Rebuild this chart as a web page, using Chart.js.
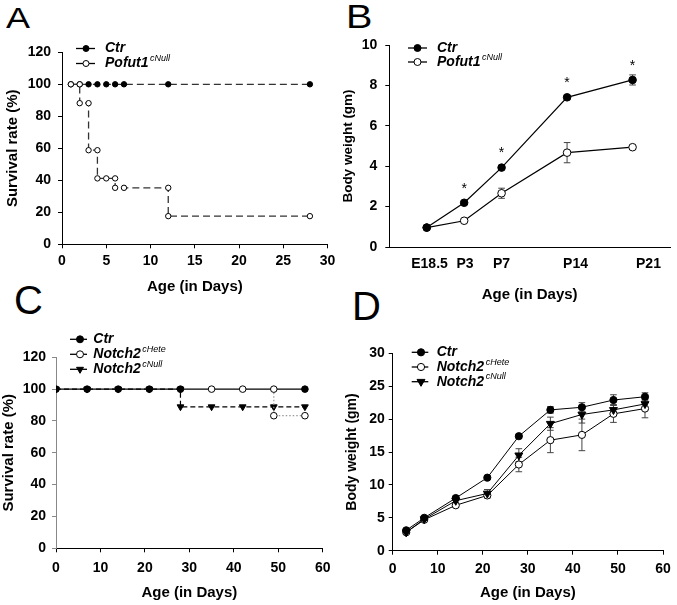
<!DOCTYPE html>
<html>
<head>
<meta charset="utf-8">
<title>Survival and body weight</title>
<script src="https://cdn.jsdelivr.net/npm/chart.js@4.4.1/dist/chart.umd.min.js"></script>
<style>
  html, body { margin: 0; padding: 0; background: #fff; }
  body { position: relative; width: 677px; height: 605px; overflow: hidden; font-family: "Liberation Sans", Arial, sans-serif; }
  canvas { position: absolute; }
  .letter { position: absolute; font-size: 30px; line-height: 30px; color: #000; transform-origin: left top; }
  .big { font-size: 40px; line-height: 40px; }
</style>
</head>
<body>
<div class="letter" style="left:6px;top:3px;transform:scaleX(1.2)">A</div>
<div class="letter" style="left:346px;top:0px;font-size:33px;line-height:33px;transform:scaleX(1.2)">B</div>
<div class="letter big" style="left:14px;top:280px">C</div>
<div class="letter big" style="left:352px;top:286px">D</div>

<canvas id="chartA" width="340" height="300" style="left:0;top:0"></canvas>
<canvas id="chartB" width="337" height="310" style="left:340px;top:0"></canvas>
<canvas id="chartC" width="340" height="305" style="left:0;top:300px"></canvas>
<canvas id="chartD" width="337" height="305" style="left:340px;top:300px"></canvas>

<script>
// A: survival, Ctr vs Pofut1 cNull (step points listed at each drop)
const aCtrDays = [1, 2, 3, 4, 5, 6, 7, 12, 28];
const aCtrSurv = [100, 100, 100, 100, 100, 100, 100, 100, 100];
const aPofutDays = [1, 2, 2, 3, 3, 4, 4, 5, 6, 6, 7, 12, 12, 28];
const aPofutSurv = [100, 100, 88.2, 88.2, 58.8, 58.8, 41.2, 41.2, 41.2, 35.3, 35.3, 35.3, 17.6, 17.6];

// B: body weight, Ctr vs Pofut1 cNull (E18.5 sits one day before P0)
const bDays = [-1, 3, 7, 14, 21];
const bTickDays = [-0.7, 3.1, 7, 14.9, 22.7];
const bTickLabels = ['E18.5', 'P3', 'P7', 'P14', 'P21'];
const bCtr = [0.96, 2.19, 3.93, 7.41, 8.27];
const bCtrSem = [0.04, 0.08, 0.1, 0.1, 0.25];
const bPofut = [0.96, 1.30, 2.66, 4.67, 4.94];
const bPofutSem = [0.04, 0.06, 0.25, 0.5, 0.08];
const bSignificant = [false, true, true, true, true];

// C: survival, Ctr vs Notch2 cHete / cNull
const cCtrDays = [0, 7, 14, 21, 28, 56];
const cCtrSurv = [100, 100, 100, 100, 100, 100];
const cHeteDays = [0, 7, 14, 21, 28, 35, 42, 49, 49, 56];
const cHeteSurv = [100, 100, 100, 100, 100, 100, 100, 100, 83.3, 83.3];
const cNullDays = [0, 7, 14, 21, 28, 28, 35, 42, 49, 56];
const cNullSurv = [100, 100, 100, 100, 100, 88.9, 88.9, 88.9, 88.9, 88.9];

// D: body weight, Ctr vs Notch2 cHete / cNull
const dDays = [3, 7, 14, 21, 28, 35, 42, 49, 56];
const dCtr = [3.1, 5.0, 8.0, 11.1, 17.4, 21.4, 21.8, 22.9, 23.4];
const dCtrSem = [0.2, 0.2, 0.3, 0.2, 0.3, 0.5, 0.7, 0.8, 0.6];
const dHete = [2.8, 4.7, 6.9, 8.4, 13.1, 16.8, 17.6, 20.8, 21.6];
const dHeteSem = [0.2, 0.2, 0.3, 0.4, 1.1, 1.9, 2.4, 1.3, 1.4];
const dNull = [2.8, 4.8, 7.6, 8.7, 14.5, 19.3, 20.7, 21.4, 22.3];
const dNullSem = [0.2, 0.3, 0.4, 0.6, 1.0, 1.0, 1.3, 0.8, 0.8];

const FONT = "'Liberation Sans', Arial, sans-serif";
Chart.defaults.font.family = FONT;
Chart.defaults.color = '#000';

const pts = (xs, ys) => xs.map((x, i) => ({ x: x, y: ys[i] }));

function series(xs, ys, o) {
  return Object.assign({
    data: pts(xs, ys),
    borderColor: '#000', borderWidth: 1.2, tension: 0,
    pointRadius: 3.5, pointHoverRadius: 3.5, pointBorderWidth: 1,
    pointBorderColor: '#000', pointBackgroundColor: '#000'
  }, o);
}

function xAxis(min, max, step, o) {
  return {
    type: 'linear', min: min, max: max,
    ticks: { stepSize: step, color: '#000', font: { size: 14, weight: 'bold' }, padding: o.tickPad, maxRotation: 0, autoSkip: false },
    grid: { drawOnChartArea: false, drawTicks: o.drawTicks !== false, tickLength: 4, color: '#000' },
    border: { color: '#000', width: 1 },
    title: { display: true, text: 'Age (in Days)', color: '#000', font: { size: 15, weight: 'bold' }, padding: { top: 0, bottom: o.titlePad } },
    afterFit: s => { s.height = o.height; }
  };
}

function yAxis(min, max, step, o) {
  return {
    min: min, max: max,
    ticks: { stepSize: step, color: '#000', font: { size: 14, weight: 'bold' }, padding: o.tickPad },
    grid: { drawOnChartArea: false, tickLength: 4, color: o.axisColor || '#000' },
    border: { color: o.axisColor || '#000', width: 1 },
    title: { display: true, text: o.title, color: '#000', font: { size: o.titleSize, weight: 'bold' }, padding: { top: o.titlePad, bottom: 0 } },
    afterFit: s => { s.width = o.width; }
  };
}

// error bars drawn under the markers
const errorBars = {
  id: 'errorBars',
  beforeDatasetsDraw(chart) {
    const ctx = chart.ctx, x = chart.scales.x, y = chart.scales.y;
    chart.data.datasets.forEach(ds => {
      if (!ds.sem) return;
      ctx.save();
      ctx.strokeStyle = '#444';
      ctx.lineWidth = 1;
      ds.data.forEach((p, i) => {
        const e = ds.sem[i];
        if (!e) return;
        const px = x.getPixelForValue(p.x);
        const t = y.getPixelForValue(p.y + e), b = y.getPixelForValue(p.y - e);
        ctx.beginPath();
        ctx.moveTo(px, t); ctx.lineTo(px, b);
        ctx.moveTo(px - 3.3, t); ctx.lineTo(px + 3.3, t);
        ctx.moveTo(px - 3.3, b); ctx.lineTo(px + 3.3, b);
        ctx.stroke();
      });
      ctx.restore();
    });
  }
};

// asterisks over significant points
const stars = {
  id: 'stars',
  afterDatasetsDraw(chart, args, opts) {
    if (!opts.flags) return;
    const meta = chart.getDatasetMeta(opts.dataset), ctx = chart.ctx;
    ctx.save();
    ctx.font = '14px ' + FONT;
    ctx.textAlign = 'center';
    ctx.textBaseline = 'middle';
    ctx.fillStyle = '#000';
    opts.flags.forEach((f, i) => {
      if (f) ctx.fillText('*', meta.data[i].x, meta.data[i].y - opts.offset);
    });
    ctx.restore();
  }
};

// legend with italic gene names and superscript alleles
const panelLegend = {
  id: 'panelLegend',
  afterDraw(chart, args, o) {
    if (!o.items) return;
    const ctx = chart.ctx;
    ctx.save();
    o.items.forEach((it, i) => {
      const y = o.y + i * o.dy;
      ctx.setLineDash([]);
      ctx.strokeStyle = '#000';
      ctx.lineWidth = 1.3;
      ctx.beginPath();
      ctx.moveTo(o.x1, y); ctx.lineTo(o.x2, y);
      ctx.stroke();
      ctx.lineWidth = 1;
      ctx.fillStyle = it.fill;
      Chart.helpers.drawPoint(ctx, { pointStyle: it.style || 'circle', rotation: it.rotation || 0, radius: it.radius || o.radius, borderWidth: 1 }, o.mx, y);
      ctx.fillStyle = '#000';
      ctx.textAlign = 'left';
      ctx.textBaseline = 'middle';
      ctx.font = 'italic bold 14px ' + FONT;
      ctx.fillText(it.label, o.tx, y);
      if (it.sup) {
        const w = ctx.measureText(it.label).width;
        ctx.font = 'italic 9px ' + FONT;
        ctx.fillText(it.sup, o.tx + w + 1.5, y - 5);
      }
    });
    ctx.restore();
  }
};

function panel(id, pad, datasets, scales, pluginOpts) {
  return new Chart(document.getElementById(id), {
    type: 'line',
    data: { datasets: datasets },
    options: {
      responsive: false, animation: false, events: [],
      layout: { padding: { left: 0, top: pad.top, right: pad.right, bottom: 0 } },
      scales: scales,
      plugins: Object.assign({ legend: { display: false }, tooltip: { enabled: false } }, pluginOpts)
    },
    plugins: [errorBars, stars, panelLegend]
  });
}

// ---- A ----
panel('chartA', { top: 52.3, right: 11 }, [
  series(aPofutDays, aPofutSurv, { order: 0, borderColor: '#333', borderWidth: 1.3, borderDash: [7, 4], pointRadius: 2.7, pointHoverRadius: 2.7, pointBackgroundColor: '#fff' }),
  series(aCtrDays, aCtrSurv, { order: 1, borderColor: '#333', borderWidth: 1.3, borderDash: [7, 4], pointRadius: 2.7, pointHoverRadius: 2.7 })
], {
  x: xAxis(0, 30, 5, { tickPad: 4.6, titlePad: 4, height: 55.7 }),
  y: yAxis(0, 120, 20, { title: 'Survival rate (%)', titleSize: 15, titlePad: 3.7, width: 62, tickPad: 7 })
}, {
  panelLegend: { x1: 76, x2: 95, mx: 86, tx: 105, y: 48.5, dy: 15, radius: 3, items: [
    { label: 'Ctr', fill: '#000' },
    { label: 'Pofut1', sup: 'cNull', fill: '#fff' }
  ] }
});

// ---- B ----
const bx = xAxis(-5, 25, 1, { tickPad: 8.6, titlePad: 6, height: 63, drawTicks: false });
bx.afterBuildTicks = s => { s.ticks = bTickDays.map(v => ({ value: v })); };
bx.ticks.callback = (v, i) => bTickLabels[i];
panel('chartB', { top: 45, right: 7 }, [
  series(bDays, bCtr, { order: 0, sem: bCtrSem, pointRadius: 3.8, pointHoverRadius: 3.8 }),
  series(bDays, bPofut, { order: 1, sem: bPofutSem, pointRadius: 3.8, pointHoverRadius: 3.8, pointBackgroundColor: '#fff' })
], {
  x: bx,
  y: yAxis(0, 10, 2, { title: 'Body weight (gm)', titleSize: 13.5, titlePad: 0, width: 49.3, tickPad: 8 })
}, {
  stars: { dataset: 0, flags: bSignificant, offset: 14 },
  panelLegend: { x1: 68, x2: 87, mx: 77.5, tx: 97, y: 48, dy: 14, radius: 3.5, items: [
    { label: 'Ctr', fill: '#000' },
    { label: 'Pofut1', sup: 'cNull', fill: '#fff' }
  ] }
});

// ---- C ----
const onCtr = p => cCtrDays.some((d, i) => d === p.x && cCtrSurv[i] === p.y);
panel('chartC', { top: 57.3, right: 17.3 }, [
  series(cHeteDays, cHeteSurv, { order: 0, borderColor: '#999', borderDash: [1.5, 2], borderWidth: 1.2,
    segment: { borderColor: c => (c.p0.parsed.y === 100 && c.p1.parsed.y === 100) ? 'rgba(0,0,0,0)' : '#999' },
    pointRadius: c => (c.raw && onCtr(c.raw)) ? 0 : 3.3, pointHoverRadius: 3.3, pointBackgroundColor: '#fff' }),
  series(cCtrDays, cCtrSurv, { order: 1, pointRadius: 3.3, pointHoverRadius: 3.3 }),
  series(cNullDays, cNullSurv, { order: 2, borderDash: [5, 3], pointStyle: 'triangle', rotation: 180, pointRadius: 3.9, pointHoverRadius: 3.9 })
], {
  x: xAxis(0, 60, 10, { tickPad: 7.3, titlePad: 3.3, height: 56.7 }),
  y: yAxis(0, 120, 20, { title: 'Survival rate (%)', titleSize: 15, titlePad: 0, width: 56, tickPad: 6, axisColor: '#888' })
}, {
  panelLegend: { x1: 70, x2: 87, mx: 80, tx: 93.3, y: 39.3, dy: 15, radius: 3.5, items: [
    { label: 'Ctr', fill: '#000' },
    { label: 'Notch2', sup: 'cHete', fill: '#fff' },
    { label: 'Notch2', sup: 'cNull', fill: '#000', style: 'triangle', rotation: 180, radius: 4 }
  ] }
});

// ---- D ----
panel('chartD', { top: 53.3, right: 9.7 }, [
  series(dDays, dCtr, { order: 0, sem: dCtrSem, borderWidth: 1, pointRadius: 3.6, pointHoverRadius: 3.6 }),
  series(dDays, dNull, { order: 1, sem: dNullSem, borderWidth: 1, pointStyle: 'triangle', rotation: 180, pointRadius: 4.6, pointHoverRadius: 4.6 }),
  series(dDays, dHete, { order: 2, sem: dHeteSem, borderWidth: 1, pointRadius: 3.6, pointHoverRadius: 3.6, pointBackgroundColor: '#fff' })
], {
  x: xAxis(0, 60, 10, { tickPad: 6.2, titlePad: 2.7, height: 54.3 }),
  y: yAxis(0, 30, 5, { title: 'Body weight (gm)', titleSize: 14, titlePad: 3.5, width: 52.7, tickPad: 4 })
}, {
  panelLegend: { x1: 71.7, x2: 88.3, mx: 81, tx: 96.7, y: 52.3, dy: 14.7, radius: 3.6, items: [
    { label: 'Ctr', fill: '#000' },
    { label: 'Notch2', sup: 'cHete', fill: '#fff' },
    { label: 'Notch2', sup: 'cNull', fill: '#000', style: 'triangle', rotation: 180, radius: 4.6 }
  ] }
});
</script>
</body>
</html>
